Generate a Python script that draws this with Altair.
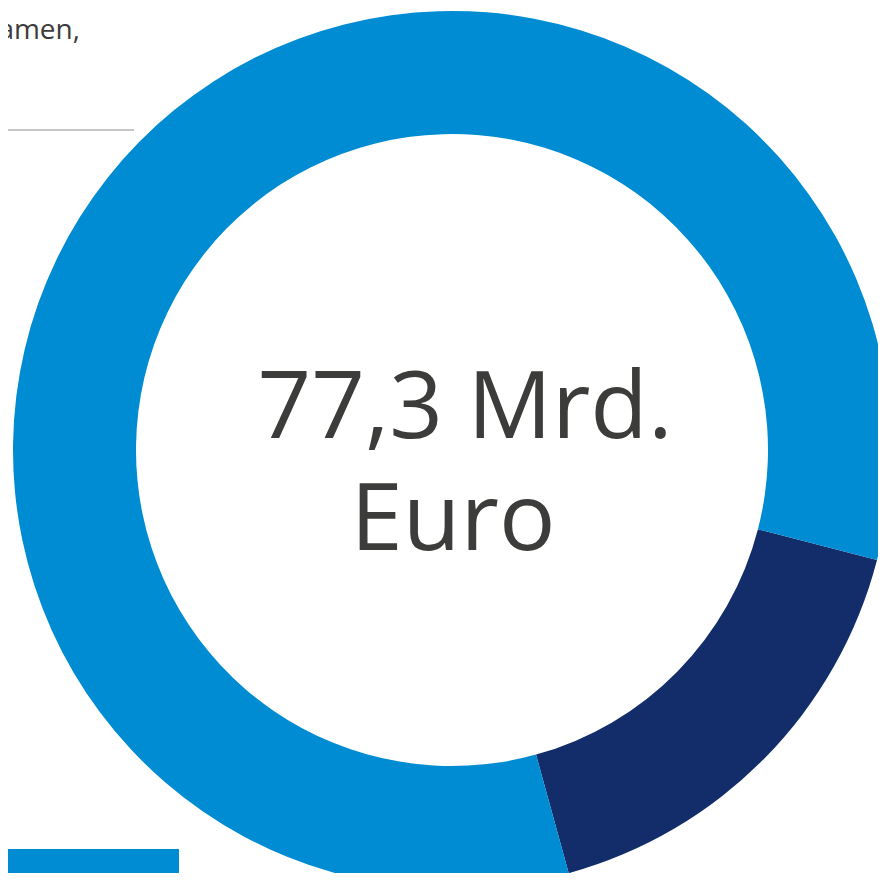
import altair as alt
import pandas as pd

# Donut segments (Mrd. Euro), order clockwise starting at the navy segment
segments = ["Segment A", "Segment B"]
values = [12.9, 64.4]
colors = ["#122D6A", "#008CD3"]
seg_order = [1, 2]

center_lines = ["77,3 Mrd.", "Euro"]
top_text = ["amen,"]

df = pd.DataFrame({"segment": segments, "value": values, "ord": seg_order})

W, H = 870, 865
CX, CY = 444, 442
START = 1.8239  # radians, clockwise from 12 o'clock

donut = alt.Chart(df).mark_arc(outerRadius=439, innerRadius=316, stroke=None).encode(
    theta=alt.Theta("value:Q", stack=True,
                    scale=alt.Scale(range=[START, START + 6.283185307])),
    color=alt.Color("segment:N", scale=alt.Scale(domain=segments, range=colors), legend=None),
    order=alt.Order("ord:Q"),
    x=alt.value(CX),
    y=alt.value(CY),
)

line1 = alt.Chart(pd.DataFrame({"t": [center_lines[0]]})).mark_text(
    font="Open Sans", fontSize=94, color="#3C3C3B", align="center", baseline="alphabetic"
).encode(text="t:N", x=alt.value(457), y=alt.value(430))

line2 = alt.Chart(pd.DataFrame({"t": [center_lines[1]]})).mark_text(
    font="Open Sans", fontSize=94, color="#3C3C3B", align="center", baseline="alphabetic"
).encode(text="t:N", x=alt.value(445), y=alt.value(542))

top = alt.Chart(pd.DataFrame({"t": top_text})).mark_text(
    font="Open Sans", fontSize=28, color="#3C3C3B", align="right", baseline="alphabetic"
).encode(text="t:N", x=alt.value(72), y=alt.value(31))

rule = alt.Chart(pd.DataFrame({"k": [0]})).mark_rule(color="#B4B4B4", strokeWidth=1.5).encode(
    x=alt.value(-8), x2=alt.value(126), y=alt.value(122)
)

bar = alt.Chart(pd.DataFrame({"k": [0]})).mark_rect(color="#008CD3").encode(
    x=alt.value(-8), x2=alt.value(171), y=alt.value(841), y2=alt.value(880)
)

chart = alt.layer(donut, line1, line2, top, rule, bar).properties(
    width=W, height=H, padding=0, autosize=alt.AutoSizeParams(type="none"),
    background="white"
).configure_view(stroke=None)

chart.save("out.html", embed_options={"renderer": "svg", "actions": False})
